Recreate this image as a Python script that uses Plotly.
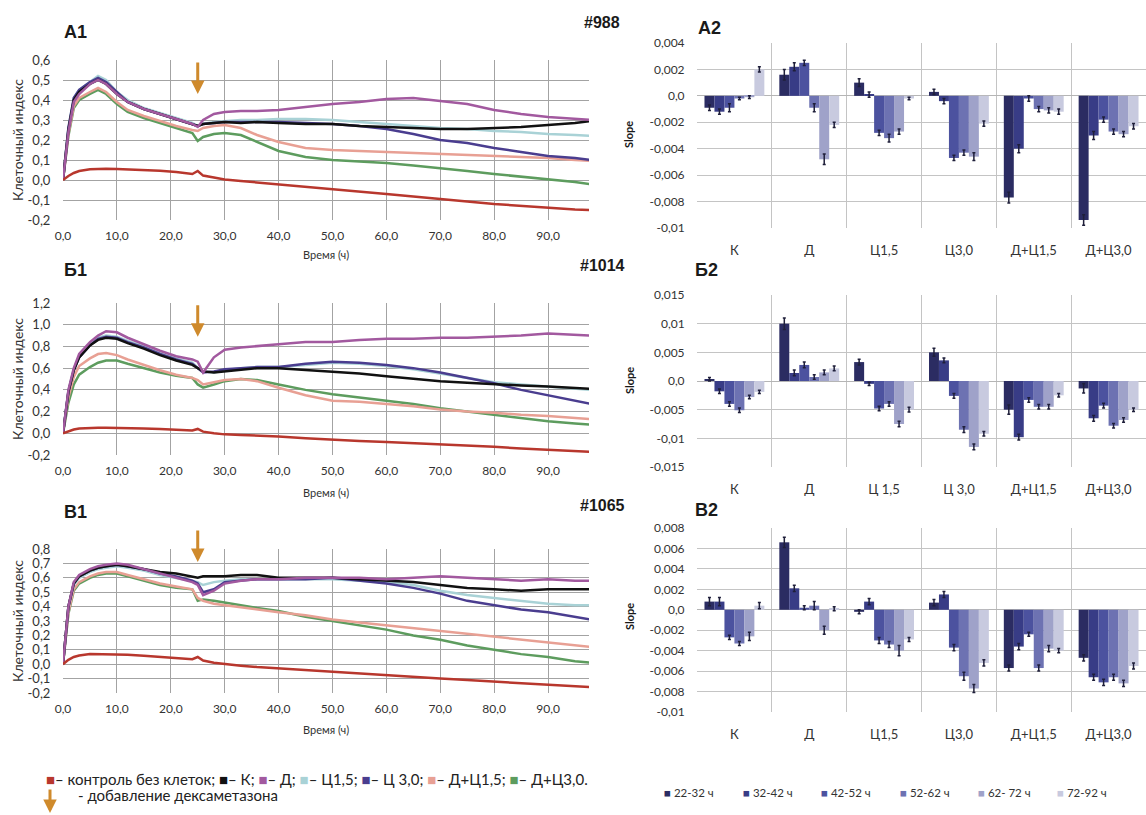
import plotly.graph_objects as go

W, H = 1146, 815

# ---------------- time axis (hours) ----------------
TIME_H = [0, 1, 2, 3, 5, 6.5, 8, 10, 12, 15, 18, 21, 24, 25, 26, 28, 30, 33, 36, 40,
          45, 50, 55, 60, 65, 70, 75, 80, 85, 90, 95, 98]
DEX_TIME = 25
X_TICKS = [0, 10, 20, 30, 40, 50, 60, 70, 80, 90]
X_TICKTEXT = ["0,0", "10,0", "20,0", "30,0", "40,0", "50,0", "60,0", "70,0", "80,0", "90,0"]

LINE_NAMES = ["контроль без клеток", "К", "Д", "Ц1,5", "Ц 3,0", "Д+Ц1,5", "Д+Ц3,0"]
LINE_COLORS = ["#b8372d", "#111111", "#a2599f", "#a9d2d6", "#4a3d8f", "#e8a094", "#5d9c5e"]

# ---------------- A1 (#988) ----------------
A1_ctrl = [0, 0.02, 0.035, 0.045, 0.054, 0.056, 0.056, 0.055, 0.053, 0.05, 0.046, 0.04, 0.03, 0.045, 0.022,
           0.012, 0.003, -0.005, -0.012, -0.02, -0.033, -0.046, -0.058, -0.07, -0.083, -0.097, -0.108,
           -0.12, -0.13, -0.14, -0.147, -0.15]
A1_K = [0, 0.25, 0.4, 0.44, 0.48, 0.5, 0.48, 0.43, 0.39, 0.355, 0.33, 0.305, 0.28, 0.27, 0.28, 0.285,
        0.29, 0.285, 0.29, 0.285, 0.28, 0.28, 0.27, 0.265, 0.26, 0.255, 0.255, 0.26, 0.265, 0.275, 0.285, 0.295]
A1_D = [0, 0.24, 0.39, 0.43, 0.48, 0.5, 0.48, 0.43, 0.39, 0.355, 0.33, 0.305, 0.28, 0.265, 0.3, 0.33,
        0.34, 0.345, 0.345, 0.35, 0.365, 0.38, 0.39, 0.405, 0.41, 0.395, 0.38, 0.35, 0.33, 0.315, 0.305, 0.3]
A1_C15 = [0, 0.26, 0.41, 0.45, 0.49, 0.52, 0.5, 0.44, 0.4, 0.36, 0.335, 0.31, 0.285, 0.27, 0.28, 0.29,
          0.295, 0.3, 0.3, 0.305, 0.305, 0.3, 0.29, 0.28, 0.27, 0.26, 0.255, 0.245, 0.24, 0.23, 0.225, 0.22]
A1_C30 = [0, 0.26, 0.41, 0.45, 0.49, 0.51, 0.49, 0.44, 0.39, 0.355, 0.33, 0.305, 0.28, 0.27, 0.28, 0.285,
          0.29, 0.29, 0.29, 0.29, 0.285, 0.28, 0.27, 0.255, 0.23, 0.2, 0.185, 0.16, 0.14, 0.12, 0.11, 0.1]
A1_DC15 = [0, 0.23, 0.37, 0.41, 0.44, 0.46, 0.44, 0.39, 0.35, 0.32, 0.295, 0.27, 0.25, 0.245, 0.26, 0.27,
           0.275, 0.26, 0.225, 0.19, 0.16, 0.15, 0.145, 0.14, 0.135, 0.13, 0.125, 0.12, 0.115, 0.11, 0.1, 0.095]
A1_DC30 = [0, 0.22, 0.36, 0.4, 0.43, 0.45, 0.43, 0.38, 0.34, 0.31, 0.285, 0.26, 0.235, 0.195, 0.215, 0.23,
           0.235, 0.225, 0.19, 0.145, 0.115, 0.1, 0.092, 0.085, 0.072, 0.06, 0.045, 0.03, 0.016, 0.005, -0.01, -0.022]

# ---------------- Б1 (#1014) ----------------
B1_ctrl = [0, 0.02, 0.035, 0.045, 0.05, 0.05, 0.05, 0.05, 0.048, 0.045, 0.04, 0.035, 0.025, 0.04, 0.015,
           0.0, -0.01, -0.015, -0.02, -0.03, -0.045, -0.06, -0.07, -0.08, -0.09, -0.1, -0.115, -0.125,
           -0.14, -0.15, -0.16, -0.17]
B1_K = [0, 0.38, 0.58, 0.7, 0.81, 0.86, 0.88, 0.87, 0.83, 0.78, 0.72, 0.67, 0.63, 0.6, 0.57, 0.56, 0.57,
        0.59, 0.6, 0.6, 0.585, 0.57, 0.55, 0.525, 0.5, 0.48, 0.465, 0.45, 0.44, 0.43, 0.415, 0.41]
B1_D = [0, 0.4, 0.6, 0.73, 0.84, 0.9, 0.94, 0.93, 0.88, 0.82, 0.76, 0.71, 0.68, 0.66, 0.56, 0.7, 0.77,
        0.79, 0.8, 0.82, 0.84, 0.84, 0.86, 0.87, 0.87, 0.88, 0.88, 0.89, 0.9, 0.92, 0.91, 0.9]
B1_C15 = [0, 0.39, 0.59, 0.71, 0.82, 0.88, 0.9, 0.89, 0.85, 0.8, 0.74, 0.69, 0.65, 0.6, 0.57, 0.56, 0.58,
          0.6, 0.61, 0.61, 0.63, 0.65, 0.64, 0.62, 0.59, 0.55, 0.51, 0.47, 0.45, 0.43, 0.41, 0.4]
B1_C30 = [0, 0.38, 0.58, 0.7, 0.81, 0.87, 0.89, 0.88, 0.84, 0.79, 0.73, 0.68, 0.64, 0.6, 0.56, 0.57, 0.59,
          0.6, 0.61, 0.61, 0.64, 0.66, 0.65, 0.63, 0.6, 0.56, 0.51, 0.46, 0.4, 0.35, 0.3, 0.27]
B1_DC15 = [0, 0.33, 0.52, 0.62, 0.69, 0.73, 0.74, 0.72, 0.68, 0.63, 0.58, 0.54, 0.51, 0.49, 0.45, 0.47,
           0.49, 0.5, 0.48, 0.42, 0.35, 0.3, 0.29, 0.27, 0.25, 0.22, 0.2, 0.19, 0.17, 0.16, 0.14, 0.13]
B1_DC30 = [0, 0.28, 0.45, 0.54, 0.61, 0.65, 0.67, 0.67, 0.64, 0.6, 0.56, 0.53, 0.51, 0.45, 0.42, 0.45,
           0.48, 0.5, 0.49, 0.45, 0.4, 0.36, 0.33, 0.3, 0.27, 0.23, 0.2, 0.17, 0.14, 0.11, 0.09, 0.08]

# ---------------- В1 (#1065) ----------------
C1_ctrl = [0, 0.03, 0.05, 0.06, 0.07, 0.07, 0.07, 0.068, 0.065, 0.058, 0.05, 0.043, 0.035, 0.05, 0.025,
           0.01, 0.0, -0.01, -0.02, -0.03, -0.04, -0.05, -0.065, -0.08, -0.09, -0.1, -0.11, -0.12, -0.13,
           -0.14, -0.15, -0.16]
C1_K = [0, 0.4, 0.56, 0.61, 0.65, 0.67, 0.68, 0.69, 0.68, 0.66, 0.64, 0.63, 0.61, 0.6, 0.61, 0.61, 0.61,
        0.62, 0.62, 0.6, 0.6, 0.6, 0.59, 0.58, 0.57, 0.55, 0.53, 0.52, 0.51, 0.52, 0.52, 0.52]
C1_D = [0, 0.4, 0.57, 0.62, 0.66, 0.68, 0.69, 0.7, 0.69, 0.66, 0.63, 0.6, 0.57, 0.55, 0.48, 0.51, 0.56,
        0.58, 0.59, 0.59, 0.6, 0.6, 0.6, 0.59, 0.6, 0.61, 0.6, 0.59, 0.58, 0.59, 0.58, 0.58]
C1_C15 = [0, 0.39, 0.55, 0.6, 0.64, 0.66, 0.67, 0.68, 0.67, 0.65, 0.62, 0.6, 0.58, 0.57, 0.55, 0.57, 0.58,
          0.59, 0.59, 0.59, 0.59, 0.59, 0.58, 0.57, 0.55, 0.51, 0.48, 0.46, 0.44, 0.42, 0.41, 0.41]
C1_C30 = [0, 0.4, 0.56, 0.61, 0.65, 0.67, 0.68, 0.69, 0.68, 0.66, 0.63, 0.61, 0.58, 0.56, 0.5, 0.52, 0.57,
          0.58, 0.59, 0.59, 0.59, 0.6, 0.58, 0.56, 0.53, 0.49, 0.44, 0.41, 0.38, 0.36, 0.33, 0.31]
C1_DC15 = [0, 0.36, 0.52, 0.57, 0.61, 0.63, 0.64, 0.64, 0.62, 0.59, 0.56, 0.54, 0.52, 0.46, 0.44, 0.42,
           0.41, 0.39, 0.38, 0.36, 0.34, 0.31, 0.29, 0.27, 0.25, 0.23, 0.21, 0.19, 0.17, 0.15, 0.13, 0.12]
C1_DC30 = [0, 0.35, 0.51, 0.56, 0.6, 0.62, 0.63, 0.63, 0.61, 0.58, 0.55, 0.53, 0.52, 0.44, 0.45, 0.44,
           0.43, 0.41, 0.39, 0.37, 0.33, 0.3, 0.27, 0.24, 0.2, 0.17, 0.13, 0.1, 0.07, 0.05, 0.02, 0.01]

# ---------------- bar charts: slopes by time interval ----------------
INTERVALS = ["22-32 ч", "32-42 ч", "42-52 ч", "52-62 ч", "62- 72 ч", "72-92 ч"]
BAR_COLORS = ["#2b2c62", "#383c86", "#4c529f", "#6d72b2", "#9fa2c9", "#c8cadf"]

CATS_A2 = ["К", "Д", "Ц1,5", "Ц3,0", "Д+Ц1,5", "Д+Ц3,0"]
CATS_B2 = ["К", "Д", "Ц 1,5", "Ц 3,0", "Д+Ц1,5", "Д+Ц3,0"]
CATS_C2 = ["К", "Д", "Ц1,5", "Ц3,0", "Д+Ц1,5", "Д+Ц3,0"]

A2_22_32 = [-0.0009, 0.0016, 0.0010, 0.0003, -0.0077, -0.0094]
A2_32_42 = [-0.0012, 0.0022, 0.0001, -0.0004, -0.0040, -0.0030]
A2_42_52 = [-0.0009, 0.0025, -0.0028, -0.0047, -0.0002, -0.0018]
A2_52_62 = [-0.0002, -0.0009, -0.0032, -0.0043, -0.0010, -0.0027]
A2_62_72 = [-0.0001, -0.0048, -0.0027, -0.0046, -0.0011, -0.0029]
A2_72_92 = [0.0020, -0.0022, -0.0002, -0.0021, -0.0012, -0.0023]
A2_err = [[0.0002, 0.0004, 0.0003, 0.0002, 0.0004, 0.0004],
          [0.0002, 0.0003, 0.0002, 0.0002, 0.0003, 0.0003],
          [0.0003, 0.0002, 0.0002, 0.0002, 0.0002, 0.0002],
          [0.0001, 0.0003, 0.0003, 0.0002, 0.0002, 0.0002],
          [0.0001, 0.0004, 0.0002, 0.0003, 0.0002, 0.0002],
          [0.0002, 0.0002, 0.0001, 0.0002, 0.0002, 0.0002]]

B2_22_32 = [0.0003, 0.0100, 0.0033, 0.0050, -0.0050, -0.0013]
B2_32_42 = [-0.0018, 0.0014, -0.0005, 0.0036, -0.0098, -0.0065]
B2_42_52 = [-0.0040, 0.0028, -0.0048, -0.0026, -0.0033, -0.0043]
B2_52_62 = [-0.0051, 0.0007, -0.0040, -0.0085, -0.0045, -0.0078]
B2_62_72 = [-0.0028, 0.0015, -0.0075, -0.0115, -0.0045, -0.0068]
B2_72_92 = [-0.0019, 0.0022, -0.0050, -0.0092, -0.0025, -0.0050]
B2_err = [[0.0003, 0.0010, 0.0005, 0.0007, 0.0008, 0.0008],
          [0.0004, 0.0005, 0.0003, 0.0004, 0.0005, 0.0005],
          [0.0004, 0.0005, 0.0004, 0.0004, 0.0004, 0.0004],
          [0.0004, 0.0004, 0.0004, 0.0005, 0.0004, 0.0004],
          [0.0003, 0.0004, 0.0005, 0.0005, 0.0004, 0.0004],
          [0.0003, 0.0004, 0.0004, 0.0004, 0.0003, 0.0003]]

C2_22_32 = [0.0008, 0.0066, -0.0002, 0.0007, -0.0057, -0.0047]
C2_32_42 = [0.0008, 0.0021, 0.0008, 0.0015, -0.0036, -0.0066]
C2_42_52 = [-0.0027, 0.0002, -0.0030, -0.0037, -0.0024, -0.0071]
C2_52_62 = [-0.0033, 0.0004, -0.0034, -0.0065, -0.0057, -0.0066]
C2_62_72 = [-0.0026, -0.0020, -0.0040, -0.0077, -0.0038, -0.0072]
C2_72_92 = [0.0004, 0.0001, -0.0029, -0.0052, -0.0040, -0.0055]
C2_err = [[0.0004, 0.0005, 0.0002, 0.0003, 0.0003, 0.0003],
          [0.0004, 0.0003, 0.0003, 0.0003, 0.0003, 0.0003],
          [0.0002, 0.0002, 0.0003, 0.0003, 0.0002, 0.0003],
          [0.0002, 0.0004, 0.0003, 0.0004, 0.0003, 0.0003],
          [0.0004, 0.0004, 0.0005, 0.0004, 0.0003, 0.0003],
          [0.0003, 0.0002, 0.0002, 0.0003, 0.0002, 0.0003]]

# y tick labels
A1_YT = [-0.2, -0.1, 0, 0.1, 0.2, 0.3, 0.4, 0.5, 0.6]
A1_YL = ["-0,2", "-0,1", "0,0", "0,1", "0,2", "0,3", "0,4", "0,5", "0,6"]
B1_YT = [-0.2, 0, 0.2, 0.4, 0.6, 0.8, 1.0, 1.2]
B1_YL = ["-0,2", "0,0", "0,2", "0,4", "0,6", "0,8", "1,0", "1,2"]
C1_YT = [-0.2, -0.1, 0, 0.1, 0.2, 0.3, 0.4, 0.5, 0.6, 0.7, 0.8]
C1_YL = ["-0,2", "-0,1", "0,0", "0,1", "0,2", "0,3", "0,4", "0,5", "0,6", "0,7", "0,8"]
A2_YT = [-0.01, -0.008, -0.006, -0.004, -0.002, 0, 0.002, 0.004]
A2_YL = ["-0,01", "-0,008", "-0,006", "-0,004", "-0,002", "0,0", "0,002", "0,004"]
B2_YT = [-0.015, -0.01, -0.005, 0, 0.005, 0.01, 0.015]
B2_YL = ["-0,015", "-0,01", "-0,005", "0,0", "0,005", "0,01", "0,015"]
C2_YT = [-0.01, -0.008, -0.006, -0.004, -0.002, 0, 0.002, 0.004, 0.006, 0.008]
C2_YL = ["-0,01", "-0,008", "-0,006", "-0,004", "-0,002", "0,0", "0,002", "0,004", "0,006", "0,008"]

# arrow tips (value on y axis where the dexamethasone arrow ends)
ARROW_TIP = {1: 0.43, 2: 0.89, 3: 0.71}

FONT = "Lato, 'Open Sans', sans-serif"
BOLD = "'Liberation Sans', Arial, sans-serif"
GRID_LINE = "#a3a3a3"
GRID_BAR = "#c4c4c4"
NO_TICK = "rgba(0,0,0,0)"

fig = go.Figure()

def ax(name, n):
    return name if n == 1 else f"{name}{n}"

def ref(letter, n):
    return letter if n == 1 else f"{letter}{n}"

# ---------------- line panels ----------------
line_panels = [
    (1, [A1_ctrl, A1_K, A1_D, A1_C15, A1_C30, A1_DC15, A1_DC30], [1 - 220 / H, 1 - 60 / H], [-0.2, 0.6], A1_YT, A1_YL),
    (2, [B1_ctrl, B1_K, B1_D, B1_C15, B1_C30, B1_DC15, B1_DC30], [1 - 455 / H, 1 - 303 / H], [-0.2, 1.2], B1_YT, B1_YL),
    (3, [C1_ctrl, C1_K, C1_D, C1_C15, C1_C30, C1_DC15, C1_DC30], [1 - 693 / H, 1 - 549 / H], [-0.2, 0.8], C1_YT, C1_YL),
]
draw_order = [6, 5, 3, 4, 1, 2, 0]
for n, series, ydom, yr, yt, yl in line_panels:
    for i in draw_order:
        fig.add_trace(go.Scatter(
            x=TIME_H, y=series[i], mode="lines", name=LINE_NAMES[i],
            line=dict(color=LINE_COLORS[i], width=2.5),
            xaxis=ref("x", n), yaxis=ref("y", n), showlegend=False))
    fig.update_layout(**{
        ax("xaxis", n): dict(domain=[63 / W, 589 / W], range=[0, 97.6], tickvals=X_TICKS,
                             ticktext=X_TICKTEXT, showgrid=True, gridcolor=GRID_LINE, gridwidth=1,
                             zeroline=False, showline=False, ticks="outside", ticklen=5, tickcolor=NO_TICK,
                             tickfont=dict(size=12, color="#333"), anchor=ref("y", n), automargin=False),
        ax("yaxis", n): dict(domain=ydom, range=yr, tickvals=yt, ticktext=yl, showgrid=True,
                             gridcolor=GRID_LINE, gridwidth=1, zeroline=False, showline=False,
                             ticks="outside", ticklen=9, tickcolor=NO_TICK,
                             tickfont=dict(size=13, color="#333"),
                             anchor=ref("x", n), automargin=False),
    })

# ---------------- bar panels ----------------
bar_panels = [
    (4, CATS_A2, [A2_22_32, A2_32_42, A2_42_52, A2_52_62, A2_62_72, A2_72_92], A2_err,
     [1 - 228 / H, 1 - 43 / H], [-0.01, 0.004], A2_YT, A2_YL),
    (5, CATS_B2, [B2_22_32, B2_32_42, B2_42_52, B2_52_62, B2_62_72, B2_72_92], B2_err,
     [1 - 467 / H, 1 - 295 / H], [-0.015, 0.015], B2_YT, B2_YL),
    (6, CATS_C2, [C2_22_32, C2_32_42, C2_42_52, C2_52_62, C2_62_72, C2_72_92], C2_err,
     [1 - 712 / H, 1 - 528 / H], [-0.01, 0.008], C2_YT, C2_YL),
]
for n, cats, series, errs, ydom, yr, yt, yl in bar_panels:
    for k in range(6):
        fig.add_trace(go.Bar(
            x=cats, y=series[k], name=INTERVALS[k], marker=dict(color=BAR_COLORS[k], line=dict(width=0)),
            error_y=dict(type="data", array=errs[k], color="#1f1f3a", thickness=1.5, width=1.5),
            xaxis=ref("x", n), yaxis=ref("y", n), showlegend=False))
    fig.update_layout(**{
        ax("xaxis", n): dict(domain=[697 / W, 1.0], type="category", tickson="boundaries",
                             showgrid=True, gridcolor=GRID_BAR, gridwidth=1, zeroline=False,
                             showline=False, ticks="", ticklabelstandoff=13,
                             tickfont=dict(size=13, color="#333"), anchor=ref("y", n), automargin=False),
        ax("yaxis", n): dict(domain=ydom, range=yr, tickvals=yt, ticktext=yl, showgrid=True,
                             gridcolor=GRID_BAR, gridwidth=1, zeroline=True, zerolinecolor="#b5b5b5",
                             zerolinewidth=1, showline=False, ticks="outside", ticklen=9,
                             tickcolor=NO_TICK, tickfont=dict(size=12, color="#333"),
                             anchor=ref("x", n), automargin=False),
    })

# ---------------- annotations ----------------
ann = []

def paper_text(px, py, text, size, bold=False, color="#1a1a1a", angle=0, xanchor="center", family=None):
    ann.append(dict(x=px / W, y=1 - py / H, xref="paper", yref="paper", text=f"<b>{text}</b>" if bold else text,
                    showarrow=False, xanchor=xanchor, yanchor="middle", textangle=angle,
                    font=dict(size=size, color=color, family=family or (BOLD if bold else FONT))))

# panel letters and sample numbers
for px, py, t in [(75, 32, "A1"), (75, 270, "Б1"), (75, 512, "В1"),
                  (709, 28, "A2"), (706, 270, "Б2"), (706, 510, "В2")]:
    paper_text(px, py, t, 18, bold=True)
for py, t in [(23, "#988"), (265, "#1014"), (505, "#1065")]:
    paper_text(602, py, t, 16, bold=True)

# axis titles
for py in [255, 493, 729]:
    paper_text(326, py, "Время (ч)", 11, color="#333")
for py in [140, 379, 621]:
    paper_text(17, py, "Клеточный индекс", 14, color="#333", angle=-90)
for py in [135, 381, 617]:
    paper_text(629, py, "Slope", 11, bold=True, angle=-90, family=FONT)

# dexamethasone arrows
for n in (1, 2, 3):
    ann.append(dict(x=DEX_TIME, y=ARROW_TIP[n], xref=ref("x", n), yref=ref("y", n), text="",
                    showarrow=True, ax=0, ay=-33, arrowhead=2, arrowsize=0.9, arrowwidth=3,
                    arrowcolor="#cf8a2c", standoff=0))

# line legend
sq = lambda c: f'<span style="color:{c}">■</span>'
legend_line = (f"{sq(LINE_COLORS[0])}– контроль без клеток; {sq(LINE_COLORS[1])}– К; "
               f"{sq(LINE_COLORS[2])}– Д; {sq(LINE_COLORS[3])}– Ц1,5; {sq(LINE_COLORS[4])}– Ц 3,0; "
               f"{sq(LINE_COLORS[5])}– Д+Ц1,5; {sq(LINE_COLORS[6])}– Д+Ц3,0.")
paper_text(44, 779, legend_line, 15, color="#222", xanchor="left")
paper_text(76, 795, "- добавление дексаметазона", 15, color="#222", xanchor="left")
ann.append(dict(x=50 / W, y=1 - 813 / H, xref="paper", yref="paper", text="", showarrow=True,
                ax=0, ay=-25, arrowhead=2, arrowsize=0.9, arrowwidth=3, arrowcolor="#cf8a2c", standoff=0))

# bar legend
for k, name in enumerate(INTERVALS):
    paper_text(662 + k * 78.5, 792, f'<span style="color:{BAR_COLORS[k]}">■</span> {name}', 11.5,
               color="#333", xanchor="left")

fig.update_layout(
    width=W, height=H, margin=dict(l=0, r=0, t=0, b=0),
    paper_bgcolor="white", plot_bgcolor="white", showlegend=False,
    barmode="group", bargap=0.2, bargroupgap=0,
    font=dict(family=FONT, size=11, color="#333"),
    annotations=ann,
)

fig.write_html("out.html", config={"displayModeBar": False},
               post_script="document.body.style.margin='0';document.body.style.overflow='hidden';")
